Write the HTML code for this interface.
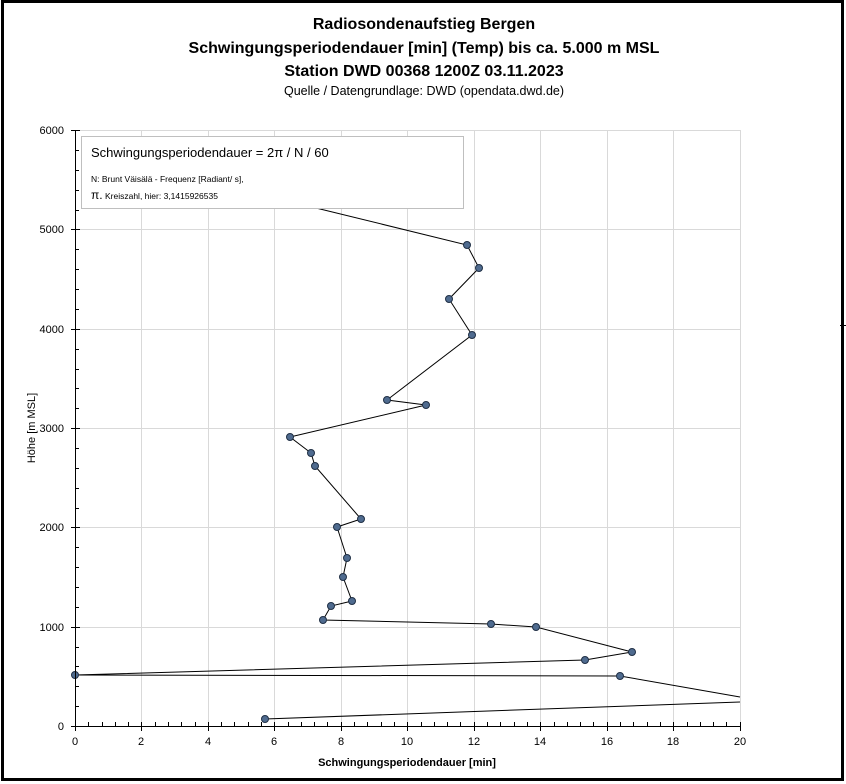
<!DOCTYPE html>
<html><head><meta charset="utf-8"><style>
body{margin:0;background:#fff}
svg{display:block;font-family:"Liberation Sans",sans-serif}
</style></head><body>
<svg width="846" height="784" viewBox="0 0 846 784" xmlns="http://www.w3.org/2000/svg">
<rect x="2.5" y="1.5" width="840" height="778" fill="#fff" stroke="#000" stroke-width="3"/>
<g text-anchor="middle" font-weight="bold" font-size="16" fill="#000">
<text x="424" y="29">Radiosondenaufstieg Bergen</text>
<text x="424" y="53">Schwingungsperiodendauer [min] (Temp) bis ca. 5.000 m MSL</text>
<text x="424" y="76">Station DWD 00368 1200Z 03.11.2023</text>
</g>
<text x="424" y="95" text-anchor="middle" font-size="12.5">Quelle / Datengrundlage: DWD (opendata.dwd.de)</text>
<g stroke="#d9d9d9" stroke-width="1">
<path d="M141.5 130V726M208.5 130V726M274.5 130V726M341.5 130V726M407.5 130V726M474.5 130V726M540.5 130V726M607.5 130V726M673.5 130V726M740.5 130V726"/>
<path d="M75 130.5H740M75 229.5H740M75 329.5H740M75 428.5H740M75 527.5H740M75 627.5H740"/>
</g>
<clipPath id="c"><rect x="70" y="130" width="670.5" height="600"/></clipPath>
<g clip-path="url(#c)">
<polyline fill="none" stroke="#000" stroke-width="1" points="240,185 316,208 467,245 479,268 449,299 472,335 387,400 426,405 290,437 311,453 315,466 361,519 337,527 347,558 343,577 352,601 331,606 323,620 491,624 536,627 632,652 585,660 75,675 620,676 740,697"/>
<polyline fill="none" stroke="#000" stroke-width="1" points="740,702 265,719"/>
<g fill="#4f6b8f" stroke="#1f2f45" stroke-width="1">
<circle cx="467" cy="245" r="3.5"/><circle cx="479" cy="268" r="3.5"/><circle cx="449" cy="299" r="3.5"/><circle cx="472" cy="335" r="3.5"/><circle cx="387" cy="400" r="3.5"/><circle cx="426" cy="405" r="3.5"/><circle cx="290" cy="437" r="3.5"/><circle cx="311" cy="453" r="3.5"/><circle cx="315" cy="466" r="3.5"/><circle cx="361" cy="519" r="3.5"/><circle cx="337" cy="527" r="3.5"/><circle cx="347" cy="558" r="3.5"/><circle cx="343" cy="577" r="3.5"/><circle cx="352" cy="601" r="3.5"/><circle cx="331" cy="606" r="3.5"/><circle cx="323" cy="620" r="3.5"/><circle cx="491" cy="624" r="3.5"/><circle cx="536" cy="627" r="3.5"/><circle cx="632" cy="652" r="3.5"/><circle cx="585" cy="660" r="3.5"/><circle cx="75" cy="675" r="3.5"/><circle cx="620" cy="676" r="3.5"/><circle cx="265" cy="719" r="3.5"/>
</g>
</g>
<g stroke="#000" stroke-width="1">
<path d="M75.5 130V726M75 726.5H740"/>
<path d="M71 130.5H80M71 229.5H80M71 329.5H80M71 428.5H80M71 527.5H80M71 627.5H80M71 726.5H80"/>
<path d="M75 150.5h4M75 170.5h4M75 190.5h4M75 210.5h4M75 249.5h4M75 269.5h4M75 289.5h4M75 309.5h4M75 349.5h4M75 369.5h4M75 388.5h4M75 408.5h4M75 448.5h4M75 468.5h4M75 488.5h4M75 508.5h4M75 547.5h4M75 567.5h4M75 587.5h4M75 607.5h4M75 647.5h4M75 666.5h4M75 686.5h4M75 706.5h4"/>
<path d="M75.5 722V731M141.5 722V731M208.5 722V731M274.5 722V731M341.5 722V731M407.5 722V731M474.5 722V731M540.5 722V731M607.5 722V731M673.5 722V731M740.5 722V731"/>
<path d="M88.5 722v4M102.5 722v4M115.5 722v4M128.5 722v4M155.5 722v4M168.5 722v4M181.5 722v4M195.5 722v4M221.5 722v4M234.5 722v4M248.5 722v4M261.5 722v4M288.5 722v4M301.5 722v4M314.5 722v4M327.5 722v4M354.5 722v4M367.5 722v4M381.5 722v4M394.5 722v4M421.5 722v4M434.5 722v4M447.5 722v4M460.5 722v4M487.5 722v4M500.5 722v4M514.5 722v4M527.5 722v4M554.5 722v4M567.5 722v4M580.5 722v4M593.5 722v4M620.5 722v4M633.5 722v4M647.5 722v4M660.5 722v4M687.5 722v4M700.5 722v4M713.5 722v4M726.5 722v4"/>
<path d="M840 325.5h6"/>
</g>
<g font-size="11" fill="#000" text-anchor="end">
<text x="64" y="134">6000</text><text x="64" y="233">5000</text><text x="64" y="333">4000</text><text x="64" y="432">3000</text><text x="64" y="531">2000</text><text x="64" y="631">1000</text><text x="64" y="730">0</text>
</g>
<g font-size="11" fill="#000" text-anchor="middle">
<text x="75" y="745">0</text><text x="141" y="745">2</text><text x="208" y="745">4</text><text x="274" y="745">6</text><text x="341" y="745">8</text><text x="407" y="745">10</text><text x="474" y="745">12</text><text x="540" y="745">14</text><text x="607" y="745">16</text><text x="673" y="745">18</text><text x="740" y="745">20</text>
</g>
<text x="407" y="766" text-anchor="middle" font-size="11" font-weight="bold">Schwingungsperiodendauer [min]</text>
<text transform="translate(35 428) rotate(-90)" text-anchor="middle" font-size="11">Höhe [m MSL]</text>
<rect x="81.5" y="136.5" width="382" height="72" fill="#fff" stroke="#bfbfbf"/>
<text x="91" y="157" font-size="13">Schwingungsperiodendauer = 2π / N / 60</text>
<text x="91" y="182" font-size="8.5">N: Brunt Väisälä - Frequenz [Radiant/ s],</text>
<text x="91" y="199" font-size="8.5"><tspan font-size="12">π.</tspan> Kreiszahl, hier: 3,1415926535</text>
</svg>
</body></html>
